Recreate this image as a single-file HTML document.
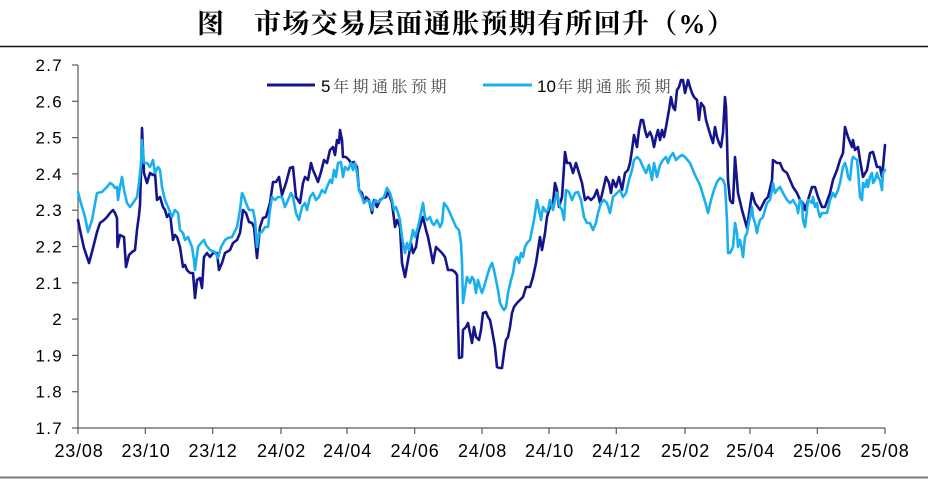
<!DOCTYPE html>
<html>
<head>
<meta charset="utf-8">
<style>
  html,body{margin:0;padding:0;background:#fff;}
  body{width:928px;height:484px;overflow:hidden;position:relative;}
  svg{display:block;}
</style>
</head>
<body>
<svg width="928" height="484" viewBox="0 0 928 484" xmlns="http://www.w3.org/2000/svg">
  <rect width="928" height="484" fill="#fff"/>
  <!-- Title -->
  <text x="197" y="33" font-family="'Liberation Serif','Noto Serif CJK SC',serif" font-weight="bold" font-size="27" fill="#000">图</text>
  <text x="254" y="33" font-family="'Liberation Serif','Noto Serif CJK SC',serif" font-weight="bold" font-size="27" letter-spacing="1.3" fill="#000">市场交易层面通胀预期有所回升（%）</text>
  <line x1="0" y1="46.5" x2="928" y2="46.5" stroke="#111" stroke-width="1.5"/>

  <!-- bottom rule -->
  <line x1="0" y1="477.5" x2="928" y2="477.5" stroke="#7a7a7a" stroke-width="2"/>

  <!-- Axes -->
  <g stroke="#5a5a5a" stroke-width="1.2" fill="none">
    <line x1="78" y1="65" x2="78" y2="428"/>
    <line x1="78" y1="428" x2="885" y2="428"/>
    <line x1="72" y1="65" x2="78" y2="65"/>
    <line x1="72" y1="101.3" x2="78" y2="101.3"/>
    <line x1="72" y1="137.6" x2="78" y2="137.6"/>
    <line x1="72" y1="173.9" x2="78" y2="173.9"/>
    <line x1="72" y1="210.2" x2="78" y2="210.2"/>
    <line x1="72" y1="246.5" x2="78" y2="246.5"/>
    <line x1="72" y1="282.8" x2="78" y2="282.8"/>
    <line x1="72" y1="319.1" x2="78" y2="319.1"/>
    <line x1="72" y1="355.4" x2="78" y2="355.4"/>
    <line x1="72" y1="391.7" x2="78" y2="391.7"/>
    <line x1="72" y1="428" x2="78" y2="428"/>
    <line x1="78" y1="428" x2="78" y2="434"/>
    <line x1="145.3" y1="428" x2="145.3" y2="434"/>
    <line x1="212.7" y1="428" x2="212.7" y2="434"/>
    <line x1="281" y1="428" x2="281" y2="434"/>
    <line x1="347" y1="428" x2="347" y2="434"/>
    <line x1="414.7" y1="428" x2="414.7" y2="434"/>
    <line x1="482" y1="428" x2="482" y2="434"/>
    <line x1="549" y1="428" x2="549" y2="434"/>
    <line x1="616.3" y1="428" x2="616.3" y2="434"/>
    <line x1="685" y1="428" x2="685" y2="434"/>
    <line x1="750" y1="428" x2="750" y2="434"/>
    <line x1="817.3" y1="428" x2="817.3" y2="434"/>
    <line x1="885" y1="428" x2="885" y2="434"/>
  </g>

  <!-- Y labels -->
  <g font-family="'Liberation Sans',sans-serif" font-size="17" fill="#000" text-anchor="end" letter-spacing="1.3">
    <text x="63" y="71">2.7</text>
    <text x="63" y="107.3">2.6</text>
    <text x="63" y="143.6">2.5</text>
    <text x="63" y="179.9">2.4</text>
    <text x="63" y="216.2">2.3</text>
    <text x="63" y="252.5">2.2</text>
    <text x="63" y="288.8">2.1</text>
    <text x="63" y="325.1">2</text>
    <text x="63" y="361.4">1.9</text>
    <text x="63" y="397.7">1.8</text>
    <text x="63" y="434">1.7</text>
  </g>

  <!-- X labels -->
  <g font-family="'Liberation Sans',sans-serif" font-size="18" fill="#000" text-anchor="middle" letter-spacing="0.8">
    <text x="79" y="457">23/08</text>
    <text x="146" y="457">23/10</text>
    <text x="213" y="457">23/12</text>
    <text x="281.5" y="457">24/02</text>
    <text x="347.5" y="457">24/04</text>
    <text x="415" y="457">24/06</text>
    <text x="482.5" y="457">24/08</text>
    <text x="549.5" y="457">24/10</text>
    <text x="616.5" y="457">24/12</text>
    <text x="685.5" y="457">25/02</text>
    <text x="750.5" y="457">25/04</text>
    <text x="817.5" y="457">25/06</text>
    <text x="885" y="457">25/08</text>
  </g>

  <!-- Legend -->
  <line x1="267" y1="85" x2="315" y2="85" stroke="#14148c" stroke-width="3"/>
  <text x="321" y="92" font-family="'Liberation Sans',sans-serif" font-size="17" fill="#000">5</text>
  <text x="333" y="92" font-family="'Liberation Serif','Noto Serif CJK SC',serif" font-size="16" letter-spacing="3.5" fill="#4a4a4a">年期通胀预期</text>
  <line x1="483" y1="85" x2="532" y2="85" stroke="#1ab0ee" stroke-width="3"/>
  <text x="537" y="92" font-family="'Liberation Sans',sans-serif" font-size="17" fill="#000">10</text>
  <text x="557" y="92" font-family="'Liberation Serif','Noto Serif CJK SC',serif" font-size="16" letter-spacing="3.5" fill="#4a4a4a">年期通胀预期</text>

  <!-- 5Y series (dark) -->
  <polyline fill="none" stroke="#14148c" stroke-width="2.6" stroke-linejoin="round" stroke-linecap="round" points="
78,220 80,230 84,248 89,263 93,248 97,232 100,223 104,220 107,217 110,213 113,210 115,213 117,218 117.5,247 120,235 122,236 124,237 126,267 129,255 132,252 135,250 137,230 139,215 140,205 141,173 142,128 143,150 144,173 147,183 150,173 153,175 155,173 157,200 160,197 163,207 165,210 167,217 170,213 173,240 175,235 177,237 180,247 183,267 185,265 187,270 190,273 193,273 195,298 197,280 200,278 202,288 204,257 207,253 210,257 213,253 217,253 219,270 222,263 225,253 230,250 233,243 237,240 240,233 243,210 246,213 249,222 252,223 254,227 257,258 260,227 263,218 266,217 270,203 273,182 276,182 279,177 282,195 286,183 290,168 293,167 296,197 300,203 303,183 305,177 308,180 311,163 313,170 316,177 318,182 321,172 324,160 327,163 330,150 333,147 335,155 337,140 339,143 340,130 342,140 343,157 346,157 349,160 351,163 354,162 357,167 359,190 362,193 364,203 366,197 369,200 372,213 374,200 377,207 380,200 383,198 386,197 388,190 390,197 392,203 395,227 397,220 400,227 402,263 405,277 408,260 411,243 413,253 416,247 418,233 421,223 423,217 426,230 428,237 430,247 433,263 436,247 439,250 442,253 445,257 448,270 452,270 455,272 457,275 458,320 459,358 462,357 463,330 466,327 468,323 470,333 472,343 474,327 476,337 479,340 481,330 483,313 486,312 488,317 490,320 492,330 495,347 497,367 500,368 502,368 504,353 506,340 508,337 510,327 512,313 514,307 517,303 520,300 523,297 526,287 530,287 533,277 536,263 538,250 540,237 542,250 545,233 547,217 550,207 553,203 555,183 557,190 559,207 562,197 565,152 567,163 570,163 573,173 576,163 579,173 582,183 585,200 588,197 591,200 594,197 597,190 600,203 603,190 606,177 609,183 611,193 613,180 616,187 619,177 622,190 625,173 628,170 630,163 632,150 634,135 637,147 639,130 641,120 643,120 645,130 647,137 650,132 652,137 654,147 656,137 658,130 660,140 662,130 664,137 666,127 669,110 671,97 673,107 675,110 677,90 679,87 681,80 683,80 685,93 688,80 690,87 692,93 694,97 697,100 699,120 701,103 704,107 706,120 708,127 711,137 713,143 715,127 717,137 719,143 721,147 723,133 725,97 726,107 727,140 728,180 730,200 732,203 733,203 735,157 738,193 742,210 747,228 752,193 755,203 760,210 765,200 768,197 772,180 773,160 777,163 780,163 783,170 787,173 790,180 793,187 797,193 800,200 803,203 805,210 808,200 812,187 815,187 818,197 822,207 825,207 830,193 833,180 837,170 840,160 843,153 845,127 848,137 852,147 853,140 855,150 858,147 860,160 863,177 867,170 870,153 873,152 877,167 880,167 882,177 883,167 885,145"/>

  <!-- 10Y series (light) -->
  <polyline fill="none" stroke="#1ab0ee" stroke-width="2.6" stroke-linejoin="round" stroke-linecap="round" points="
78,192 80,200 85,217 88,232 92,220 97,193 102,192 107,187 110,183 113,185 115,188 117,187 118,200 120,187 122,177 124,190 127,203 130,207 133,203 137,197 139,183 141,163 142,140 144,163 147,163 150,167 153,160 155,173 158,167 160,170 162,187 165,200 168,207 172,217 175,210 178,213 180,230 183,233 185,240 188,237 192,247 194,260 195,270 198,247 201,243 204,240 206,245 210,250 215,252 218,258 221,247 225,240 228,238 232,237 237,227 240,210 242,193 244,197 246,203 249,210 253,210 255,220 257,247 259,233 262,232 265,227 268,227 270,210 272,197 275,200 278,197 282,197 285,207 288,200 291,193 293,197 296,213 299,220 302,207 305,203 307,210 310,197 313,193 316,200 319,197 322,190 325,193 327,187 330,180 332,183 334,170 336,177 338,163 341,162 343,177 345,167 348,170 351,163 353,170 355,163 357,173 359,190 362,197 364,203 367,200 370,202 372,210 375,200 378,202 381,200 384,197 387,188 390,193 392,200 394,210 396,207 398,213 400,220 402,237 405,253 407,243 409,250 411,240 413,230 415,237 418,227 421,213 423,203 425,217 427,220 430,217 432,223 434,225 437,220 440,227 442,223 444,203 447,207 450,213 453,220 456,227 459,230 461,243 462,263 463,303 465,290 467,277 470,283 472,277 474,280 476,293 478,280 480,287 482,293 484,287 486,280 488,273 490,267 492,263 494,270 496,280 498,290 500,303 502,307 504,310 506,307 508,293 511,280 513,273 515,260 517,257 519,263 521,253 523,257 525,247 527,243 530,240 532,230 534,220 537,200 539,210 541,220 543,207 546,212 548,210 550,200 553,210 555,200 557,193 560,207 562,210 564,220 566,190 569,192 572,200 575,193 578,192 581,200 584,217 587,223 590,223 593,230 596,223 598,213 601,203 604,200 607,203 610,213 613,197 617,193 620,190 623,197 626,193 629,180 632,170 634,160 637,157 640,160 643,167 646,173 649,165 652,180 654,163 657,177 660,165 663,160 666,157 668,163 670,157 673,153 676,160 679,157 682,155 685,157 690,163 695,175 700,185 703,195 706,205 708,213 711,200 714,190 717,182 720,178 723,180 725,185 727,220 728,253 730,253 733,247 735,223 737,233 738,247 740,240 742,250 743,257 745,237 747,233 748,227 750,217 752,207 753,217 755,223 757,233 758,227 760,220 763,217 765,210 767,203 770,200 772,190 773,183 775,193 777,190 780,187 783,193 787,200 790,203 793,200 797,207 798,213 800,200 802,203 803,220 805,227 807,210 808,200 812,203 813,197 815,207 817,203 818,210 820,217 822,213 823,213 827,213 830,200 833,193 835,197 838,190 840,183 843,167 845,163 847,170 848,177 850,180 852,160 853,157 857,160 858,170 860,197 862,200 863,183 865,187 867,180 868,187 870,177 872,173 873,183 875,180 877,173 878,177 880,180 882,190 883,173 885,170"/>
</svg>
</body>
</html>
